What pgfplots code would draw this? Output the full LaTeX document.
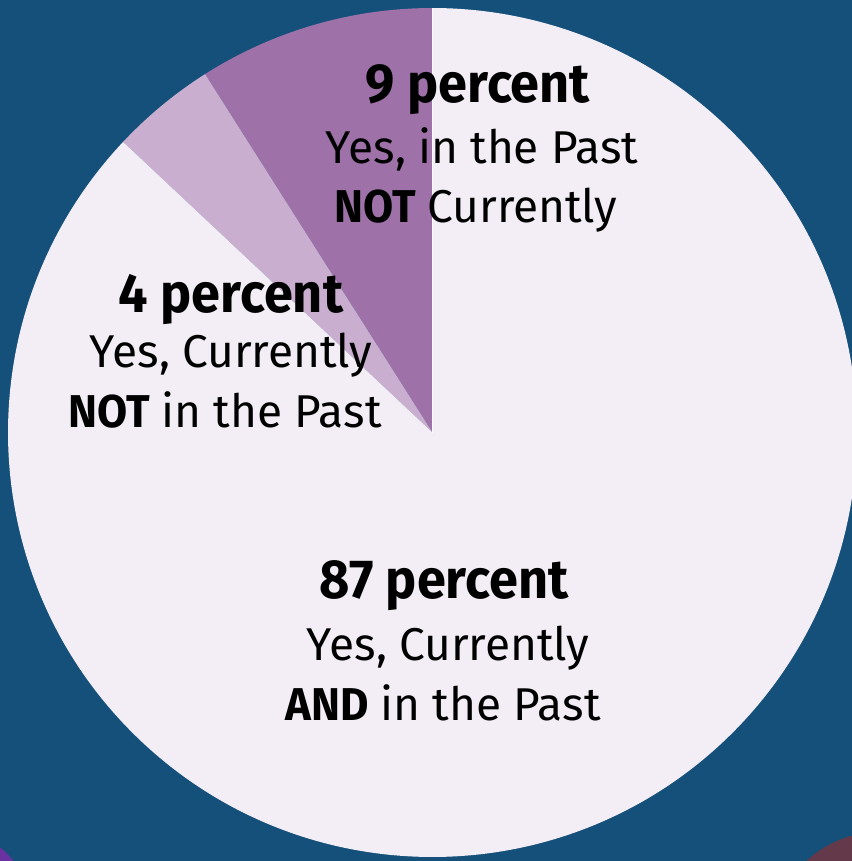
\documentclass[border=0pt]{standalone}
\usepackage{pgfplots}
\usepackage{pgfplotstable}
\pgfplotsset{compat=1.18}
\usepackage{fontspec}
\setmainfont[BoldFeatures={FakeStretch=0.95}]{Fira Sans}
\definecolor{bg}{RGB}{20,80,122}
\definecolor{c1}{RGB}{158,114,168}
\definecolor{c2}{RGB}{201,174,208}
\definecolor{c3}{RGB}{243,238,245}
\definecolor{cornerA}{RGB}{105,50,160}
\definecolor{cornerB}{RGB}{100,58,74}
\pgfplotstableread{
pct col
9 c1
4 c2
87 c3
}\piedata
\newcommand\bigf{\fontsize{5.5mm}{6mm}\selectfont\bfseries}
\newcommand\smf{\fontsize{4.6mm}{6mm}\selectfont}
\begin{document}
\begin{tikzpicture}
\begin{axis}[hide axis, scale only axis, width=8.52cm, height=8.61cm,
  xmin=0, xmax=852, ymin=0, ymax=861, clip=true]
\fill[bg] (axis cs:0,0) rectangle (axis cs:852,861);
\fill[cornerA] (axis cs:-40,-39) circle[radius=0.66cm];
\fill[cornerB] (axis cs:880,-79) circle[radius=1.08cm];
\def\cumul{90}
\pgfplotsforeachungrouped \i in {0,1,2}{%
  \pgfplotstablegetelem{\i}{pct}\of\piedata
  \let\p\pgfplotsretval
  \pgfplotstablegetelem{\i}{col}\of\piedata
  \let\c\pgfplotsretval
  \pgfmathsetmacro\endang{\cumul+3.6*\p}%
  \edef\temp{\noexpand\fill[fill=\c] (axis cs:432.5,428.5) -- ++(\cumul:4.245cm) arc[start angle=\cumul, end angle=\endang, radius=4.245cm] -- cycle;}%
  \temp
  \global\let\cumul\endang
}
\draw[white!70!c3, line width=0.4pt] (axis cs:432.5,428.5) -- ++(90:4.245cm);
\node[anchor=base, font=\bigf] at (axis cs:478,759) {9 percent};
\node[anchor=base, font=\smf] at (axis cs:482,698) {Yes, in the Past};
\node[anchor=base, font=\smf] at (axis cs:476,639) {\textbf{NOT} Currently};
\node[anchor=base, font=\bigf] at (axis cs:231,549) {4 percent};
\node[anchor=base, font=\smf] at (axis cs:231,494) {Yes, Currently};
\node[anchor=base, font=\smf] at (axis cs:225,434) {\textbf{NOT} in the Past};
\node[anchor=base, font=\bigf] at (axis cs:444,263) {87 percent};
\node[anchor=base, font=\smf] at (axis cs:448,201) {Yes, Currently};
\node[anchor=base, font=\smf] at (axis cs:443,141) {\textbf{AND} in the Past};
\end{axis}
\pgfresetboundingbox
\path (current axis.south west) rectangle (current axis.north east);
\end{tikzpicture}
\end{document}
